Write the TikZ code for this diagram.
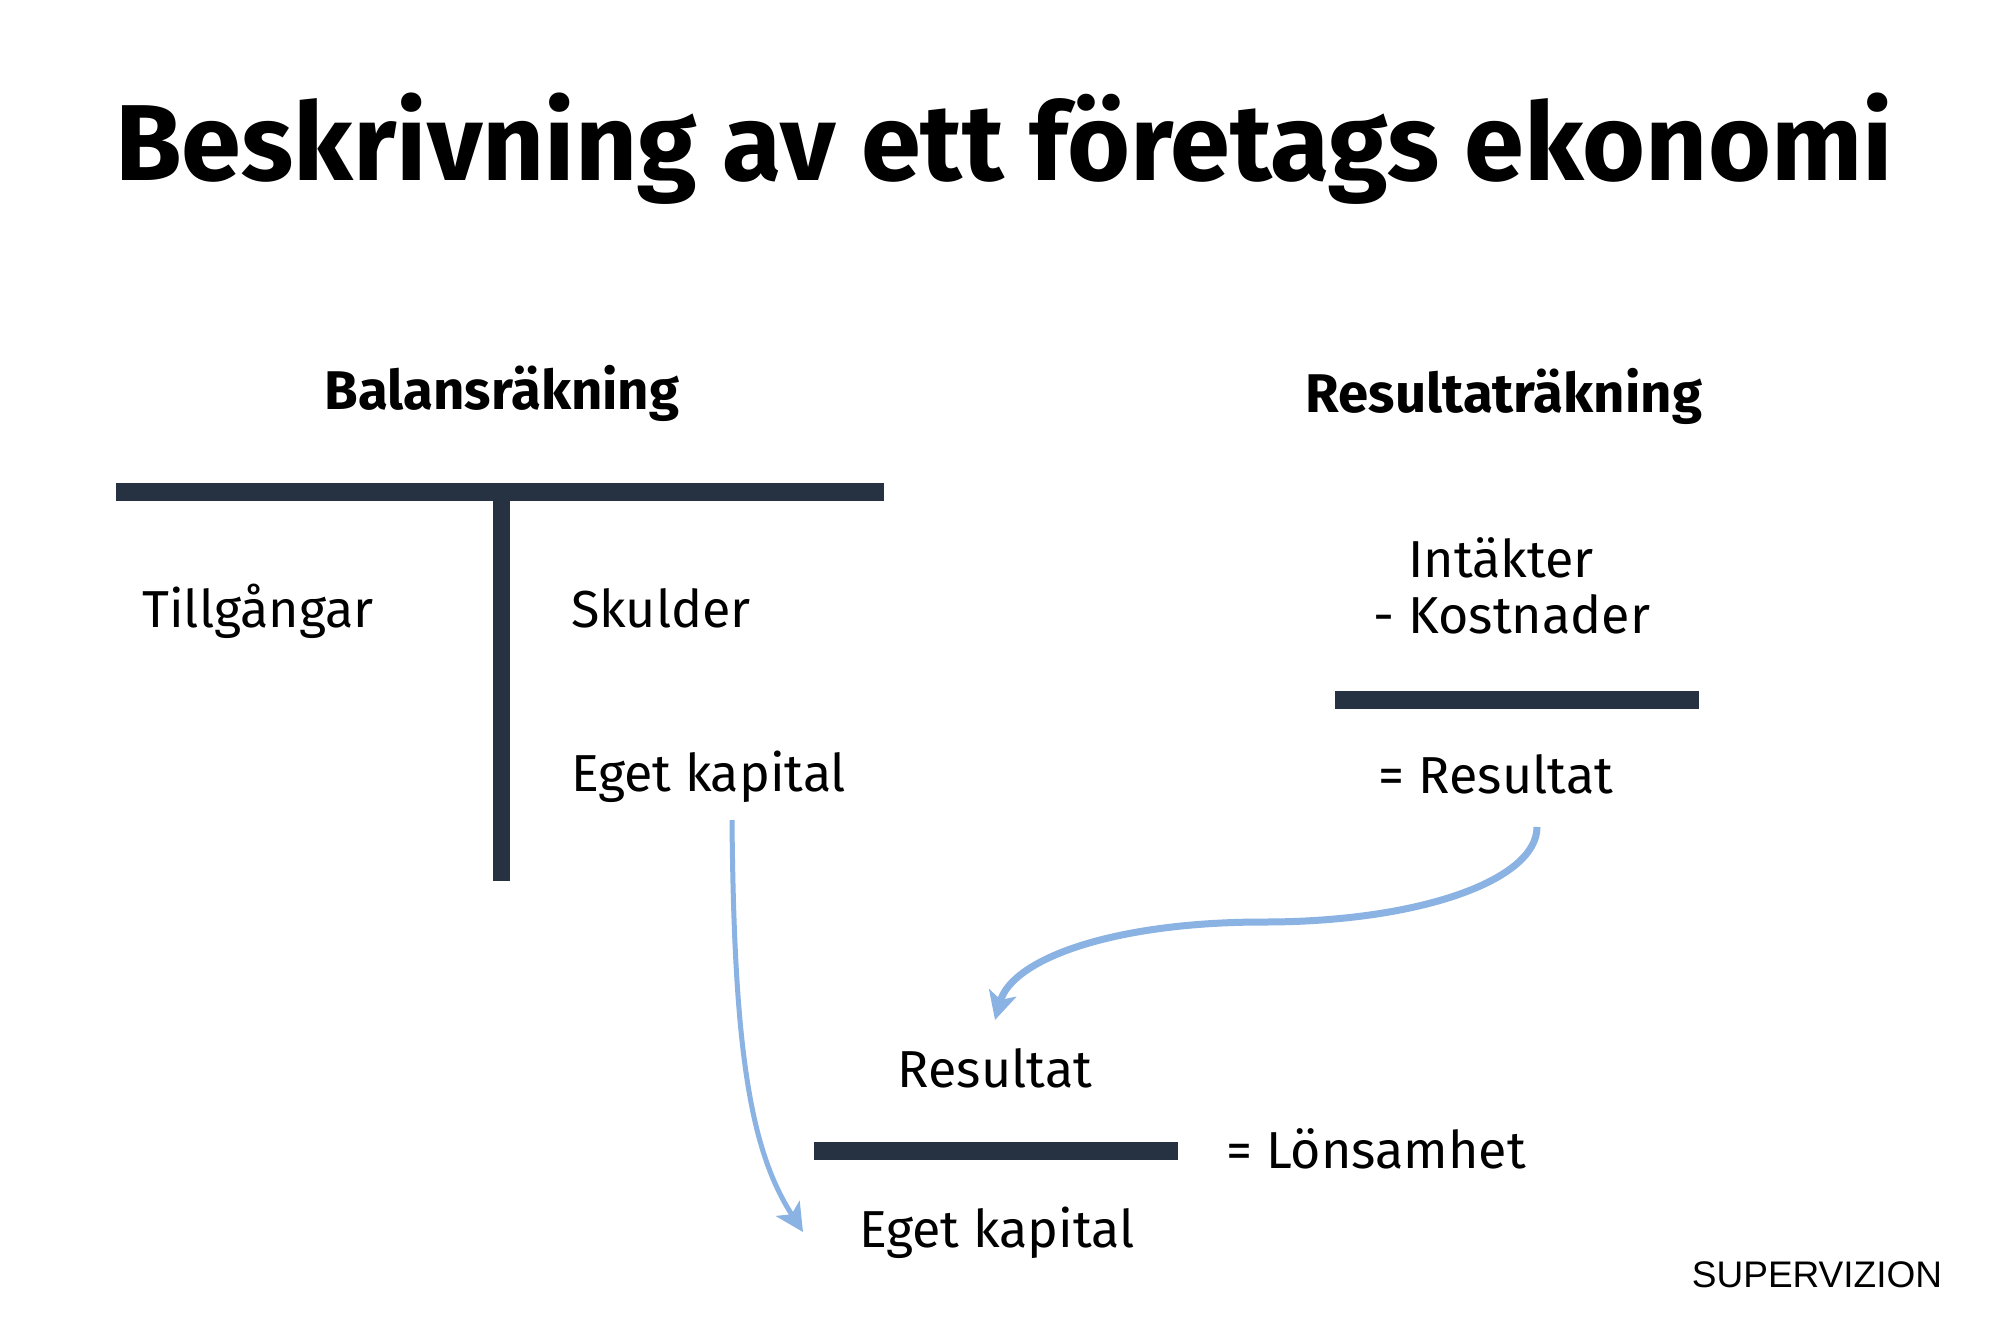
\documentclass[tikz,border=0pt]{standalone}
\usepackage{fontspec}
\setmainfont{Fira Sans}
\newfontfamily\logofont{Liberation Sans}
\usetikzlibrary{arrows.meta}
\definecolor{barcol}{RGB}{38,50,65}
\definecolor{arrcol}{RGB}{138,178,226}
\tikzset{
  txt/.style={inner sep=0pt, font=\fontsize{52}{56}\selectfont},
  hdr/.style={inner sep=0pt, font=\fontsize{54.5}{58}\bfseries\selectfont},
  bar/.style={fill=barcol, draw=none},
  flow/.style={draw=arrcol, -{Stealth[length=28pt,width=28pt,inset=7pt]}},
}
\begin{document}
\begin{tikzpicture}[x=1pt,y=-1pt]
\useasboundingbox (0,0) rectangle (2000,1333);
\fill[white] (0,0) rectangle (2000,1333);
% title
\node[inner sep=0pt, anchor=base, font=\fontsize{108}{118}\bfseries\selectfont] (title) at (1004,180) {Beskrivning av ett företags ekonomi};
% headers
\node[hdr, anchor=base] (bal) at (502,409) {Balansräkning};
\node[hdr, anchor=base] (res) at (1504,412) {Resultaträkning};
% T account
\path[bar] (116,483) rectangle (884,501) coordinate (tbarR);
\path[bar] (493,501) rectangle (510,881) coordinate (tvert);
\node[txt, anchor=base] (tillg) at (258,627) {Tillgångar};
\node[txt, anchor=base west] (skuld) at (571,627) {Skulder};
\node[txt, anchor=base west] (eget1) at (571,791) {Eget kapital};
% income statement
\node[txt, anchor=base] (intak) at (1501,577) {Intäkter};
\node[txt, anchor=base] (kost) at (1512,633) {- Kostnader};
\path[bar] (1335,691) rectangle (1699,709) coordinate (rbar);
\node[txt, anchor=base] (resu) at (1496,793) {= Resultat};
% profitability
\node[txt, anchor=base] (resu2) at (995,1087) {Resultat};
\path[bar] (814,1142) rectangle (1178,1160) coordinate (lbar);
\node[txt, anchor=base] (lons) at (1376,1168) {= Lönsamhet};
\node[txt, anchor=base] (eget2) at (997,1247) {Eget kapital};
% logo
\node[inner sep=0pt, anchor=base, font=\logofont\fontsize{37}{40}\selectfont] (logo) at (1817,1287) {SUPERVIZION};
% arrows
\coordinate (a1s) at (1537,827);
\coordinate (a1e) at (995,1020);
\coordinate (a2s) at (732,820);
\coordinate (a2e) at (803,1232);
\draw[flow, line width=7pt] (a1s) .. controls (1537,880) and (1420,922) .. (1264,922)
   .. controls (1110,922) and (1012,960) .. (a1e);
\draw[flow, line width=5pt] (a2s) .. controls (734,1050) and (750,1150) .. (a2e);
\end{tikzpicture}
\end{document}
